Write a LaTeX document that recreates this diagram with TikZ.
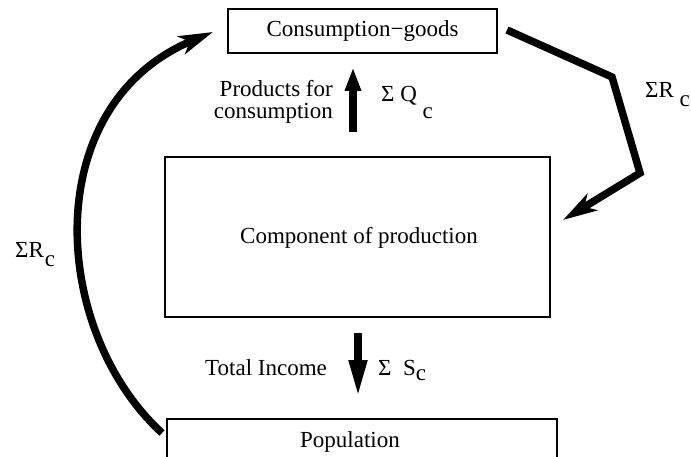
\documentclass[tikz,border=0pt]{standalone}
\usepackage{fontspec}
\setmainfont{Liberation Serif}
\usetikzlibrary{arrows.meta}
\begin{document}
\begin{tikzpicture}[x=1pt,y=-1pt,
  box/.style={draw,line width=1.2pt,inner sep=0pt},
  txt/.style={inner sep=0pt,font=\fontsize{23}{21.5}\selectfont},
  flow/.style={line width=7.5pt}]
\useasboundingbox (0,0) rectangle (691,457);
\clip (0,0) rectangle (691,457);
% boxes
\node[box,txt,minimum width=269pt,minimum height=44pt] (cg) at (362.5,31) {Consumption−goods};
\node[box,txt,minimum width=385pt,minimum height=160pt] (comp) at (357.5,237) {};
\node[txt] (comptext) at (359,238) {Component of production};
\node[box,minimum width=390pt,minimum height=46pt] (pop) at (362,442) {};
\node[txt] (poptext) at (350,442) {Population};
% vertical arrows
\coordinate (qs) at (353,132);
\coordinate (qe) at (353,67);
\draw[flow,-{Triangle[length=24pt,width=15pt]}] (qs) -- (qe);
\coordinate (ss) at (358,333);
\coordinate (se) at (358,397);
\draw[flow,-{Triangle[length=37pt,width=17pt]}] (ss) -- (se);
% right arrow
\coordinate (r0) at (507,30);
\coordinate (r1) at (612,77);
\coordinate (r2) at (640,173);
\coordinate (r3) at (563,220);
\draw[flow,line join=miter,-{Stealth[length=34pt,width=19pt,inset=9pt]}] (r0) -- (r1) -- (r2) -- (r3);
% left arrow
\coordinate (l0) at (162,433);
\coordinate (l1) at (213,32);
\draw[flow,-{Stealth[length=34pt,width=19pt,inset=9pt]}] (l0) .. controls (50,330) and (38,105) .. (l1);
% labels
\node[txt,align=right,anchor=east] (prod) at (333,102) {Products for\\consumption};
\node[txt,anchor=base west] (qc) at (381,102) {Σ Q \raisebox{-17pt}{c}};
\node[txt,anchor=base west] (rcr) at (645,98) {ΣR \raisebox{-9pt}{c}};
\node[txt,anchor=base west] (rcl) at (15,258) {ΣR\kern1pt\raisebox{-9pt}{c}};
\node[txt,anchor=base west] (ti) at (205,375) {Total Income};
\node[txt,anchor=base west] (sc) at (378,375) {Σ\enspace S\raisebox{-5pt}{c}};
\end{tikzpicture}
\end{document}
